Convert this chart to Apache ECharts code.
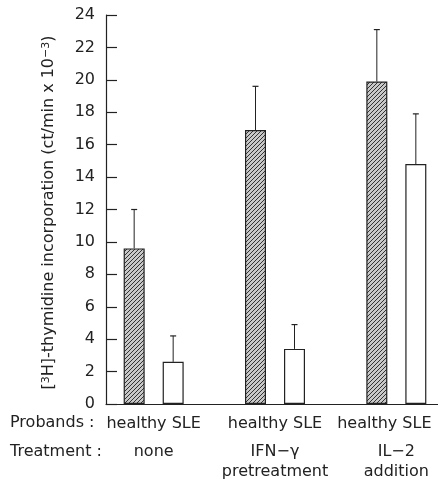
<!DOCTYPE html>
<html>
<head>
<meta charset="utf-8">
<script src="https://cdn.jsdelivr.net/npm/echarts@6/dist/echarts.min.js"></script>
<style>html,body{margin:0;padding:0;background:#fff;}#c{width:438px;height:483px;}</style>
</head>
<body>
<div id="c"></div>
<script>
// ---- data ----
const probandLabel = 'healthy SLE';
const treatmentLine1 = ['none', 'IFN\u2212\u03b3', 'IL\u22122'];
const treatmentLine2 = [' ', 'pretreatment', 'addition'];
const healthyMean  = [9.6, 16.9, 19.9];
const healthyUpper = [12.0, 19.6, 23.1];
const sleMean      = [2.6, 3.4, 14.8];
const sleUpper     = [4.2, 4.9, 17.9];
const yMin = 0, yMax = 24, yStep = 2;

// ---- styles ----
const FONT = 'DejaVu Sans';
const INK = '#222';
const BAR_W = 21;
const BAR_GAP = 18;
const BAR_OFFSET = (BAR_W + BAR_GAP) / 2;

function hatch() {
  const c = document.createElement('canvas');
  c.width = 4; c.height = 4;
  const g = c.getContext('2d');
  g.fillStyle = '#c8c8c8';
  g.fillRect(0, 0, 4, 4);
  g.strokeStyle = '#333';
  g.lineWidth = 1;
  g.beginPath();
  g.moveTo(-1, 5); g.lineTo(5, -1);
  g.moveTo(-1, 1); g.lineTo(1, -1);
  g.moveTo(3, 5); g.lineTo(5, 3);
  g.stroke();
  return c;
}

const cats = treatmentLine1.map((_, i) => i);

function errSeries(means, uppers, sign) {
  return {
    type: 'custom',
    xAxisIndex: 0, yAxisIndex: 0,
    data: means.map((m, i) => [i, m, uppers[i]]),
    renderItem: function (params, api) {
      const p0 = api.coord([api.value(0), api.value(1)]);
      const p1 = api.coord([api.value(0), api.value(2)]);
      const x = p0[0] + sign * BAR_OFFSET;
      return {
        type: 'group',
        children: [
          { type: 'line', shape: { x1: x, y1: p0[1], x2: x, y2: p1[1] }, style: { stroke: INK, lineWidth: 1 } },
          { type: 'line', shape: { x1: x - 3, y1: p1[1], x2: x + 3, y2: p1[1] }, style: { stroke: INK, lineWidth: 1.2 } }
        ]
      };
    },
    z: 5
  };
}

const chart = echarts.init(document.getElementById('c'), null, { renderer: 'canvas' });
chart.setOption({
  animation: false,
  backgroundColor: '#fff',
  grid: [
    { left: 93, width: 364, top: 15, bottom: 79, containLabel: false, outerBoundsMode: 'none' },
    { left: 106, right: 0, top: 15, bottom: 79, containLabel: false, outerBoundsMode: 'none' }
  ],
  xAxis: [
    {
      type: 'category', gridIndex: 0,
      data: cats,
      axisLine: { show: false },
      axisTick: { show: false },
      axisLabel: {
        interval: 0,
        margin: 12,
        color: INK,
        fontFamily: FONT,
        fontSize: 16,
        formatter: function (v, i) {
          const p = i === 2 ? 'p3' : 'p';
          return '{' + p + '|' + probandLabel + '}\n{gap| }\n{t|' + treatmentLine1[i] + '}\n{u|' + treatmentLine2[i] + '}';
        },
        rich: {
          p: { fontFamily: FONT, fontSize: 16, color: INK, lineHeight: 16 },
          p3: { fontFamily: FONT, fontSize: 16, color: INK, lineHeight: 16, padding: [0, 24, 0, 0] },
          gap: { fontFamily: FONT, fontSize: 6, color: INK, lineHeight: 10 },
          t: { fontFamily: FONT, fontSize: 16, color: INK, lineHeight: 20, padding: [0, 0, 0, 0] },
          u: { fontFamily: FONT, fontSize: 16, color: INK, lineHeight: 20 }
        }
      }
    },
    {
      type: 'value', gridIndex: 1,
      axisLine: { show: true, onZero: false, lineStyle: { color: INK, width: 1.2 } },
      axisTick: { show: false }, axisLabel: { show: false }, splitLine: { show: false }
    }
  ],
  yAxis: [
    {
      type: 'value', gridIndex: 0,
      min: yMin, max: yMax, interval: yStep,
      offset: -13,
      axisLine: { show: true, lineStyle: { color: INK, width: 1.2 } },
      axisTick: { show: true, inside: true, length: 11, lineStyle: { color: INK, width: 1.2 } },
      splitLine: { show: false },
      axisLabel: { color: INK, fontFamily: FONT, fontSize: 16, margin: 11 },
      name: '[{sup|3}H]-thymidine incorporation (ct/min x 10{sup|\u22123})',
      nameLocation: 'middle',
      nameRotate: 90,
      nameGap: 49,
      nameTextStyle: {
        color: INK, fontFamily: FONT, fontSize: 16, padding: [0, 6, 0, 0],
        rich: {
          sup: { fontFamily: FONT, fontSize: 11, color: INK, verticalAlign: 'top' }
        }
      }
    },
    { type: 'value', gridIndex: 1, show: false, min: 0, max: 1 }
  ],
  series: [
    {
      name: 'healthy', type: 'bar', xAxisIndex: 0, yAxisIndex: 0,
      data: healthyMean,
      barWidth: BAR_W, barGap: (BAR_GAP / BAR_W * 100) + '%',
      itemStyle: { color: { image: hatch(), repeat: 'repeat' }, borderColor: '#222', borderWidth: 1.2 }
    },
    {
      name: 'SLE', type: 'bar', xAxisIndex: 0, yAxisIndex: 0,
      data: sleMean,
      barWidth: BAR_W,
      itemStyle: { color: '#fff', borderColor: '#222', borderWidth: 1.2 }
    },
    errSeries(healthyMean, healthyUpper, -1),
    errSeries(sleMean, sleUpper, 1)
  ],
  graphic: [
    { type: 'text', left: 10, top: 415, style: { text: 'Probands :', font: '16px "DejaVu Sans"', fill: INK } },
    { type: 'text', left: 10, top: 444, style: { text: 'Treatment :', font: '16px "DejaVu Sans"', fill: INK } }
  ]
});
</script>
</body>
</html>
